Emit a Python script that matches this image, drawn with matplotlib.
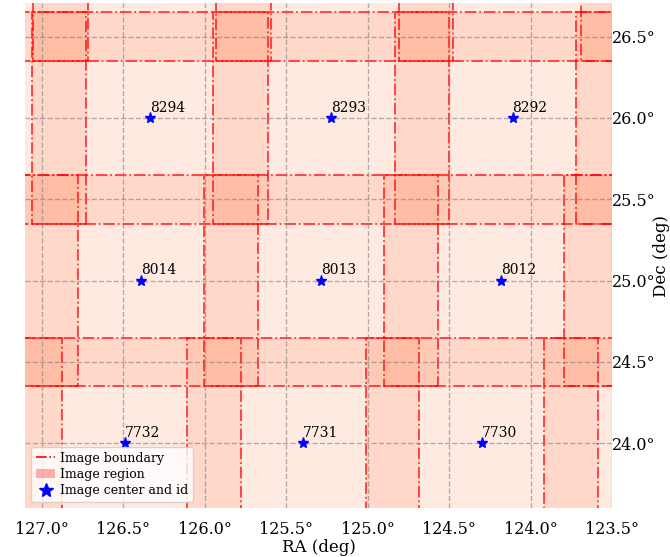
import numpy as np
import matplotlib.pyplot as plt
from matplotlib.patches import Rectangle, Patch
from matplotlib.lines import Line2D

plt.rcParams['font.family'] = 'serif'

# labelled pointings: id and centre (deg)
tile_ids = [8294, 8293, 8292, 8014, 8013, 8012, 7732, 7731, 7730]
tile_ra = [126.336, 125.223, 124.110, 126.390, 125.287, 124.183, 126.490, 125.395, 124.300]
tile_dec = [26.0, 26.0, 26.0, 25.0, 25.0, 25.0, 24.0, 24.0, 24.0]

# neighbouring pointings that only partly fall inside the field
edge_ra = [127.449, 122.997, 127.494, 123.080, 127.585, 123.205,
           127.447, 126.325, 125.203, 124.080, 122.958]
edge_dec = [26.0, 26.0, 25.0, 25.0, 24.0, 24.0,
            27.0, 27.0, 27.0, 27.0, 27.0]

fov = 1.3  # deg, square footprint on the sky

ra_ticks = [127.0, 126.5, 126.0, 125.5, 125.0, 124.5, 124.0, 123.5]
dec_ticks = [24.0, 24.5, 25.0, 25.5, 26.0, 26.5]

fig = plt.figure(figsize=(6.7, 5.57), dpi=100)
ax = fig.add_axes([0.0373, 0.0874, 0.8761, 0.9066])

all_ra = tile_ra + edge_ra
all_dec = tile_dec + edge_dec
for ra, dec in zip(all_ra, all_dec):
    w = fov / np.cos(np.radians(dec))
    ax.add_patch(Rectangle((ra - w / 2, dec - fov / 2), w, fov,
                           facecolor='coral', edgecolor='none', alpha=0.16, zorder=1))
    ax.add_patch(Rectangle((ra - w / 2, dec - fov / 2), w, fov, fill=False,
                           edgecolor='red', ls='-.', lw=1.3, alpha=0.75, zorder=2))

ax.plot(tile_ra, tile_dec, '*', color='blue', ms=8, zorder=4)
for i, ra, dec in zip(tile_ids, tile_ra, tile_dec):
    ax.text(ra, dec + 0.02, str(i), fontsize=10, ha='left', va='bottom', zorder=5)

ax.set_xlim(127.103, 123.5)
ax.set_ylim(23.6, 26.705)

ax.set_xticks(ra_ticks)
ax.set_xticklabels(['%.1f°' % t for t in ra_ticks])
ax.set_yticks(dec_ticks)
ax.set_yticklabels(['%.1f°' % t for t in dec_ticks])
ax.yaxis.tick_right()
ax.yaxis.set_label_position('right')
ax.tick_params(length=0, labelsize=11.5)
ax.tick_params(axis='x', pad=9)
ax.tick_params(axis='y', pad=0)
ax.grid(True, ls='--', color='gray', lw=1, alpha=0.6, zorder=3)
ax.set_axisbelow(False)
for s in ax.spines.values():
    s.set_visible(False)

ax.set_xlabel('RA (deg)', fontsize=12, labelpad=1)
ax.set_ylabel('Dec (deg)', fontsize=12)
ax.yaxis.set_label_coords(1.0698, 0.5)

handles = [
    Line2D([], [], color='red', ls='-.', lw=1.2),
    Patch(facecolor='red', alpha=0.3, edgecolor='none'),
    Line2D([], [], marker='*', color='blue', ls='none', ms=10),
]
ax.legend(handles, ['Image boundary', 'Image region', 'Image center and id'],
          loc='lower left', fontsize=9, handlelength=1.5, handletextpad=0.4,
          labelspacing=0.25)

fig.savefig('out.png', dpi=100)
